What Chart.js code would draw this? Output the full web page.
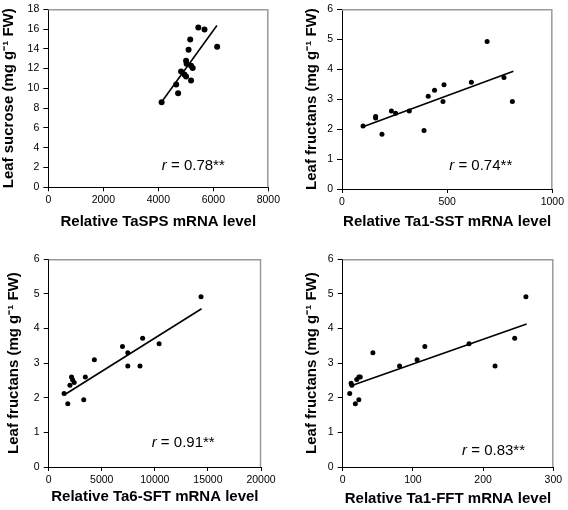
<!DOCTYPE html>
<html><head><meta charset="utf-8">
<script src="https://cdn.jsdelivr.net/npm/chart.js@4.4.0/dist/chart.umd.min.js"></script>
<style>
html,body{margin:0;padding:0;background:#fff;width:568px;height:510px;overflow:hidden;}
canvas{position:absolute;}
</style></head><body>
<canvas id="c1" width="284" height="250" style="left:0;top:0"></canvas>
<canvas id="c2" width="284" height="250" style="left:284px;top:0"></canvas>
<canvas id="c3" width="284" height="260" style="left:0;top:250px"></canvas>
<canvas id="c4" width="284" height="260" style="left:284px;top:250px"></canvas>
<script>
// ---- data ----
const spsX = [4120, 4720, 4650, 5190, 4830, 4950, 5010, 5010, 5030, 5190, 5250, 5100, 5160, 5455, 5680, 6140];
const spsY = [8.6, 9.5, 10.4, 10.8, 11.7, 11.4, 11.2, 12.8, 12.5, 12.3, 12.05, 13.9, 14.95, 16.15, 15.95, 14.2];
const sstX = [100, 160, 160, 190, 235, 255, 320, 390, 410, 440, 480, 485, 615, 690, 770, 810];
const sstY = [2.1, 2.42, 2.37, 1.83, 2.6, 2.53, 2.6, 1.95, 3.1, 3.3, 2.92, 3.48, 3.56, 4.92, 3.72, 2.92];
const sftX = [1450, 1800, 2000, 2150, 2250, 2400, 3300, 3450, 4300, 6950, 7450, 7450, 8600, 8850, 10400, 14350];
const sftY = [2.12, 1.83, 2.36, 2.6, 2.52, 2.44, 1.94, 2.6, 3.1, 3.48, 3.3, 2.92, 2.92, 3.72, 3.56, 4.92];
const fftX = [10, 12, 13, 18, 20, 23, 23, 25, 43, 81, 106, 117, 180, 217, 245, 261];
const fftY = [2.12, 2.42, 2.36, 1.83, 2.53, 1.94, 2.6, 2.6, 3.3, 2.92, 3.1, 3.48, 3.56, 2.92, 3.72, 4.92];
// trend line end points
const spsTrendX = [4100, 6130], spsTrendY = [8.55, 16.35];
const sstTrendX = [100, 815],   sstTrendY = [2.08, 3.93];
const sftTrendX = [1450, 14400], sftTrendY = [2.08, 4.57];
const fftTrendX = [11, 262],    fftTrendY = [2.34, 4.13];
// tick settings
const spsXTicks = [0, 8000, 2000], sucroseYTicks = [0, 18, 2];
const sstXTicks = [0, 1000, 500], fructanYTicks = [0, 6, 1];
const sftXTicks = [0, 20000, 5000];
const fftXTicks = [0, 300, 100];
const rTexts = ['0.78**', '0.74**', '0.91**', '0.83**'];
const xTitles = ['Relative TaSPS mRNA level', 'Relative Ta1-SST mRNA level', 'Relative Ta6-SFT mRNA level', 'Relative Ta1-FFT mRNA level'];
const yTitles = ['Leaf sucrose (mg g\u207B\u00B9 FW)', 'Leaf fructans (mg g\u207B\u00B9 FW)', 'Leaf fructans (mg g\u207B\u00B9 FW)', 'Leaf fructans (mg g\u207B\u00B9 FW)'];

const FONT = "'Liberation Sans', Arial, sans-serif";
const pts = (xs, ys) => xs.map((x, i) => ({x, y: ys[i]}));

const framePlugin = {
  id: 'frame',
  afterDraw(chart, args, opts) {
    const {ctx, chartArea: a, scales} = chart;
    ctx.save();
    ctx.strokeStyle = '#9a9a9a';
    ctx.lineWidth = 1.5;
    ctx.beginPath();
    ctx.moveTo(a.left, a.top + 0.5);
    ctx.lineTo(a.right - 0.5, a.top + 0.5);
    ctx.lineTo(a.right - 0.5, a.bottom);
    ctx.stroke();
    // r annotation
    const px = scales.x.getPixelForValue(opts.ax);
    const py = scales.y.getPixelForValue(opts.ay);
    ctx.fillStyle = '#000';
    ctx.textBaseline = 'middle';
    ctx.textAlign = 'left';
    ctx.font = 'italic 15px ' + FONT;
    ctx.fillText('r', px, py);
    const w = ctx.measureText('r').width;
    ctx.font = '15px ' + FONT;
    ctx.fillText(' = ' + opts.text, px + w, py);
    ctx.restore();
  }
};

function make(id, cfg) {
  const tick = v => String(v);
  new Chart(document.getElementById(id), {
    type: 'scatter',
    data: {
      datasets: [
        {data: pts(cfg.xs, cfg.ys), backgroundColor: '#000', borderColor: '#000', pointRadius: cfg.r, pointHoverRadius: cfg.r, borderWidth: 0},
        {type: 'line', data: pts(cfg.tx, cfg.ty), borderColor: '#000', borderWidth: 1.6, pointRadius: 0, fill: false}
      ]
    },
    options: {
      responsive: false, animation: false,
      layout: {padding: {top: cfg.top, right: cfg.right, bottom: 0, left: 0}},
      plugins: {legend: {display: false}, tooltip: {enabled: false},
        frame: {ax: cfg.ax, ay: cfg.ay, text: cfg.rt}},
      scales: {
        x: {
          type: 'linear', min: cfg.xt[0], max: cfg.xt[1],
          afterFit: s => { s.height = cfg.xh; },
          ticks: {stepSize: cfg.xt[2], callback: tick, color: '#000', padding: 4, maxRotation: 0,
                  font: {family: FONT, size: 10.5, lineHeight: 1}},
          grid: {drawOnChartArea: false, drawTicks: true, tickLength: 4, tickColor: '#000', tickWidth: 1},
          border: {color: '#000', width: 1},
          title: {display: true, text: cfg.xTitle, color: '#000', padding: {top: 0, bottom: cfg.xtp},
                  font: {family: FONT, size: 15, weight: 'bold', lineHeight: 1.2}}
        },
        y: {
          type: 'linear', min: cfg.yt[0], max: cfg.yt[1],
          afterFit: s => { s.width = cfg.yw; },
          ticks: {stepSize: cfg.yt[2], callback: tick, color: '#000', padding: 4,
                  font: {family: FONT, size: 10.5, lineHeight: 1}},
          grid: {drawOnChartArea: false, drawTicks: true, tickLength: 5, tickColor: '#000', tickWidth: 1},
          border: {color: '#000', width: 1},
          title: {display: true, text: cfg.yTitle, color: '#000', padding: {top: cfg.ytp, bottom: 0},
                  font: {family: FONT, size: 15, weight: 'bold', lineHeight: 1.2}}
        }
      }
    },
    plugins: [framePlugin]
  });
}

make('c1', {xs: spsX, ys: spsY, tx: spsTrendX, ty: spsTrendY, r: 3, xt: spsXTicks, yt: sucroseYTicks,
  top: 9, right: 15, xh: 62.7, yw: 48.3, xtp: 19, ytp: 0, ax: 4127, ay: 2.18, rt: rTexts[0], xTitle: xTitles[0], yTitle: yTitles[0]});
make('c2', {xs: sstX, ys: sstY, tx: sstTrendX, ty: sstTrendY, r: 2.5, xt: sstXTicks, yt: fructanYTicks,
  top: 6, right: 14.7, xh: 61, yw: 58, xtp: 19, ytp: 18.5, ax: 510, ay: 0.76, rt: rTexts[1], xTitle: xTitles[1], yTitle: yTitles[1]});
make('c3', {xs: sftX, ys: sftY, tx: sftTrendX, ty: sftTrendY, r: 2.5, xt: sftXTicks, yt: fructanYTicks,
  top: 4.7, right: 23, xh: 43, yw: 48.7, xtp: 3.7, ytp: 4.5, ax: 9703, ay: 0.69, rt: rTexts[2], xTitle: xTitles[2], yTitle: yTitles[2]});
make('c4', {xs: fftX, ys: fftY, tx: fftTrendX, ty: fftTrendY, r: 2.5, xt: fftXTicks, yt: fructanYTicks,
  top: 4.7, right: 14.7, xh: 43, yw: 58.7, xtp: 1.7, ytp: 18.5, ax: 170, ay: 0.47, rt: rTexts[3], xTitle: xTitles[3], yTitle: yTitles[3]});
</script>
</body></html>
